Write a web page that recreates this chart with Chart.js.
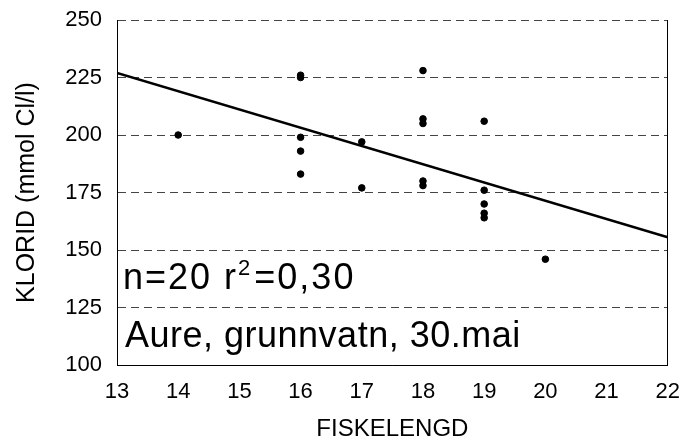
<!DOCTYPE html>
<html>
<head>
<meta charset="utf-8">
<script src="https://cdn.jsdelivr.net/npm/chart.js@4.4.0/dist/chart.umd.min.js"></script>
<style>
  html, body { margin: 0; padding: 0; background: #fff; }
  #wrap { width: 694px; height: 441px; }
</style>
</head>
<body>
<div id="wrap"><canvas id="chart"></canvas></div>
<script>
// fish length (cm) and chloride (mmol Cl/l)
const lengths  = [14, 16, 16, 16, 16, 16, 17, 17, 18, 18, 18, 18, 18, 19, 19, 19, 19, 19, 20];
const chloride = [200, 226, 225, 199, 193, 183, 197, 177, 228, 207, 205, 180, 178, 206, 176, 170, 166, 164, 146];

// regression line end points
const regX = [13, 22];
const regY = [227, 155.5];

const yTicks = [100, 125, 150, 175, 200, 225, 250];
const xTicks = [13, 14, 15, 16, 17, 18, 19, 20, 21, 22];

const FONT = "'Liberation Sans', Arial, Helvetica, sans-serif";

const textPlugin = {
    id: 'notes',
    afterDraw(chart) {
        const ctx = chart.ctx;
        const a = chart.chartArea;
        ctx.save();
        ctx.fillStyle = '#000';
        ctx.textBaseline = 'alphabetic';
        ctx.textAlign = 'left';
        // n=20 r²=0,30
        ctx.letterSpacing = '2px';
        let x = a.left + 6;
        const y1 = 289;
        ctx.font = '36px ' + FONT;
        ctx.fillText('n=20 r', x, y1);
        x += ctx.measureText('n=20 r').width;
        ctx.font = '22px ' + FONT;
        ctx.fillText('2', x, y1 - 14);
        x += ctx.measureText('2').width + 2;
        ctx.font = '36px ' + FONT;
        ctx.fillText('=0,30', x, y1);
        // label
        ctx.letterSpacing = '0.5px';
        ctx.fillText('Aure, grunnvatn, 30.mai', a.left + 8, 347);
        ctx.restore();
    }
};

new Chart(document.getElementById('chart'), {
    type: 'scatter',
    data: {
        datasets: [{
            data: lengths.map((v, i) => ({ x: v, y: chloride[i] })),
            backgroundColor: '#000',
            borderColor: '#000',
            pointRadius: 3.3,
            pointHoverRadius: 3.3
        }, {
            type: 'line',
            data: regX.map((v, i) => ({ x: v, y: regY[i] })),
            borderColor: '#000',
            borderWidth: 2.5,
            pointRadius: 0,
            fill: false
        }]
    },
    options: {
        responsive: true,
        maintainAspectRatio: false,
        animation: false,
        layout: { padding: { top: 0, right: 22, left: 0, bottom: 0 } },
        plugins: { legend: { display: false }, tooltip: { enabled: false } },
        scales: {
            x: {
                type: 'linear',
                min: 13, max: 22,
                afterBuildTicks: s => { s.ticks = xTicks.map(v => ({ value: v })); },
                afterFit: s => { s.height = 76; },
                grid: { display: true, drawOnChartArea: false, drawTicks: false },
                border: { display: true, color: '#000', width: 1 },
                ticks: { color: '#000', font: { family: FONT, size: 22 }, padding: 14, maxRotation: 0 },
                title: { display: true, text: 'FISKELENGD', color: '#000',
                         font: { family: FONT, size: 24, lineHeight: 1 }, padding: 0 }
            },
            y: {
                min: 100, max: 250,
                afterBuildTicks: s => { s.ticks = yTicks.map(v => ({ value: v })); },
                afterFit: s => { s.width = 117; s.paddingTop = 20; },
                grid: { color: '#444', lineWidth: 1, drawTicks: false },
                border: { display: true, color: '#000', width: 1, dash: [8, 5] },
                ticks: { color: '#000', font: { family: FONT, size: 22 }, padding: 15 },
                title: { display: true, text: 'KLORID (mmol Cl/l)', color: '#000',
                         font: { family: FONT, size: 25 }, padding: { top: 12, bottom: 0 } }
            },
            y2: {
                position: 'right',
                min: 100, max: 250,
                afterFit: s => { s.width = 0; s.paddingTop = 0; },
                grid: { display: true, drawOnChartArea: false, drawTicks: false },
                border: { display: true, color: '#000', width: 1 },
                ticks: { display: false }
            }
        }
    },
    plugins: [textPlugin]
});
</script>
</body>
</html>
